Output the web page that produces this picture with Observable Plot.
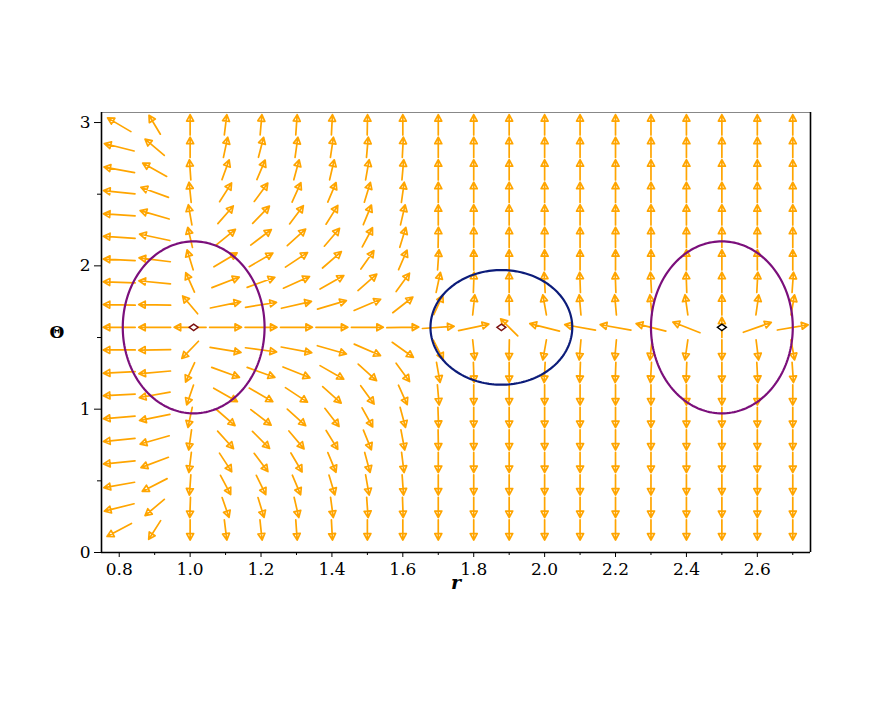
<!DOCTYPE html>
<html><head><meta charset="utf-8">
<script src="https://cdn.jsdelivr.net/npm/d3@7"></script>
<script src="https://cdn.jsdelivr.net/npm/@observablehq/plot@0.6"></script>
<style>body{margin:0;background:#fff}</style>
</head><body><div id="chart"></div>
<script>
// grid columns (r) and rows (theta = k*pi/20, k = 19 .. 1, top to bottom)
const rGrid = [0.8,0.9,1.0,1.1,1.2,1.3,1.4,1.5,1.6,1.7,1.8,1.9,2.0,2.1,2.2,2.3,2.4,2.5,2.6,2.7];
const rowK = [19,18,17,16,15,14,13,12,11,10,9,8,7,6,5,4,3,2,1];
// arrow direction as seen on screen (degrees, 0 = +r, 90 = +theta), one row per k
const arrowAngleDeg = [
  [149.5,121,90,83,85,86,87,89,90,90,90,90,90,90,90,90,90,90,90,90],
  [166,140,90,78,75.5,82,81.5,85,87,90,90,90,90,90,90,90,90,90,90,90],
  [169.5,151,94,70,67,75,77,80,85,90,90,90,90,90,90,90,90,90,90,90],
  [174,160,96,57.5,53.6,65.6,67,73,82,90,90,90,90,90,90,90,90,90,90,90],
  [176,164,100,49,46,53,58,67.5,77,90,90,90,90,90,90,90,90,90,90,90],
  [176,168,103,39,37,42,49.5,62,73,89,90,90,90,90,90,90,90,90,90,90],
  [177,173,107,31,30,33.5,41,55,66.7,86,90,90,90,90,90,90,90,90,90,90],
  [178,174.5,114,21,20,24,29.6,41,54,78,88,90,93,92,92,93,92,90,87,86],
  [179,179,130,11.7,9,12.8,16.4,23,38,65,84,91,100,95,95,96,98,90,82,80],
  [180,180,180,0,0,0,0,0,1,4,12,135,166,170,170,166,158.7,90,19.4,9.8],
  [180,181,226,-9.3,-7.8,-10.7,-15.9,-23.6,-35.5,-63,-84,-91,-100,-95,-95,-96,-98,-90,-83,-80],
  [183,185,245,-19.9,-20,-22,-29.7,-42,-53.8,-80,-88,-90,-93,-92,-92,-93,-92,-90,-87,-86],
  [183,190,251,-29.7,-30,-33.5,-41.7,-54,-65.8,-85,-90,-90,-90,-90,-90,-90,-90,-90,-90,-90],
  [185,191.6,258,-40.8,-37.5,-42,-52,-61,-75,-88,-90,-90,-90,-90,-90,-90,-90,-90,-90,-90],
  [185.6,196,262,-47.8,-45,-49.7,-58.4,-67.9,-79.4,-89,-90,-90,-90,-90,-90,-90,-90,-90,-90,-90],
  [185.6,200.6,263,-56.8,-53,-59.5,-67.4,-75,-83,-90,-90,-90,-90,-90,-90,-90,-90,-90,-90,-90],
  [190,207,266,-62,-64,-67,-73.4,-80,-86,-90,-90,-90,-90,-90,-90,-90,-90,-90,-90,-90],
  [194,220,268,-70.7,-73,-77,-82.4,-86,-88,-90,-90,-90,-90,-90,-90,-90,-90,-90,-90,-90],
  [208,237.5,270,-83,-84,-86,-87,-90,-90,-90,-90,-90,-90,-90,-90,-90,-90,-90,-90,-90]
];
// equilibria and the ellipses drawn round them
const fixedR = [1.01, 1.878, 2.5];
const fixedTheta = [Math.PI/2, Math.PI/2, Math.PI/2];
const fixedColor = ["#7a1010", "#7a1010", "#000000"];
const ellipseR = [1.01, 1.878, 2.5];
const ellipseTheta = [Math.PI/2, Math.PI/2, Math.PI/2];
const ellipseA = [0.2, 0.2, 0.2];
const ellipseB = [0.6, 0.4, 0.6];
const ellipseColor = ["#7b0f7b", "#0c1c7a", "#7b0f7b"];
const xMajor = [0.8,1.0,1.2,1.4,1.6,1.8,2.0,2.2,2.4,2.6];
const xMinor = [0.9,1.1,1.3,1.5,1.7,1.9,2.1,2.3,2.5,2.7];
const yMajor = [0,1,2,3];
const yMinor = [0.5,1.5,2.5];

// layout
const W = 872, H = 708, mL = 101, mR = 62, mT = 112, mB = 156;
const xDom = [0.75, 2.75], yDom = [0, 3.07];
const cellW = (W - mL - mR) / (xDom[1] - xDom[0]) * 0.1;
const cellH = (H - mT - mB) / (yDom[1] - yDom[0]) * (Math.PI / 20);
const L = 0.9;

const arrows = [];
rowK.forEach((k, i) => {
  rGrid.forEach((r, j) => {
    const a = arrowAngleDeg[i][j] * Math.PI / 180;
    const len = L / Math.hypot(Math.cos(a) / cellW, Math.sin(a) / cellH);
    arrows.push({r, theta: k * Math.PI / 20, rot: 90 - arrowAngleDeg[i][j], len});
  });
});

const triArrow = {
  draw(ctx, l) {
    const h = 6.5, w = 3.5;
    ctx.moveTo(0, 0); ctx.lineTo(0, -l + 2);
    ctx.moveTo(0, -l); ctx.lineTo(-w, -l + h); ctx.lineTo(w, -l + h); ctx.closePath();
  }
};
const diamond = {
  draw(ctx) { ctx.moveTo(-4.5, 0); ctx.lineTo(0, -3.3); ctx.lineTo(4.5, 0); ctx.lineTo(0, 3.3); ctx.closePath(); }
};

const ellipseMarks = ellipseR.map((rc, i) => {
  const pts = d3.range(0, 361, 2).map(t => ({
    r: rc + ellipseA[i] * Math.cos(t * Math.PI / 180),
    theta: ellipseTheta[i] + ellipseB[i] * Math.sin(t * Math.PI / 180)
  }));
  return Plot.line(pts, {x: "r", y: "theta", stroke: ellipseColor[i], strokeWidth: 2.2});
});
const dotMarks = fixedR.map((r, i) =>
  Plot.dot([{r, theta: fixedTheta[i]}], {x: "r", y: "theta", symbol: diamond, stroke: fixedColor[i], fill: "white", strokeWidth: 1.4}));

const chart = Plot.plot({
  width: W, height: H, marginLeft: mL, marginRight: mR, marginTop: mT, marginBottom: mB,
  style: {fontFamily: "'DejaVu Serif', serif", fontSize: "17px", color: "black", background: "white"},
  x: {domain: xDom},
  y: {domain: yDom},
  length: {type: "identity"},
  marks: [
    Plot.vector(arrows, {x: "r", y: "theta", rotate: "rot", length: "len", anchor: "middle", shape: triArrow, stroke: "#ffa500", strokeWidth: 1.7}),
    ...ellipseMarks,
    ...dotMarks,
    Plot.ruleY([yDom[1]], {stroke: "#888", strokeWidth: 1}),
    Plot.ruleX([xDom[1]], {stroke: "black", strokeWidth: 1.6}),
    Plot.ruleY([yDom[0]], {stroke: "black", strokeWidth: 1.6}),
    Plot.ruleX([xDom[0]], {stroke: "black", strokeWidth: 1.6}),
    Plot.axisX(xMajor, {tickSize: 5, tickPadding: 5, tickFormat: d3.format(".1f"), label: null}),
    Plot.axisX(xMinor, {tickSize: 3, tickFormat: () => "", label: null}),
    Plot.axisY(yMajor, {tickSize: 7, tickPadding: 4, tickFormat: d3.format("d"), label: null}),
    Plot.axisY(yMinor, {tickSize: 4, tickFormat: () => "", label: null}),
    Plot.text(["r"], {frameAnchor: "bottom", dy: 36, text: d => d, fontSize: 19, fontWeight: "bold", fontStyle: "italic", fill: "black"}),
    Plot.text(["Θ"], {frameAnchor: "left", dx: -52, text: d => d, fontSize: 17, fontWeight: "bold", fill: "black"})
  ]
});
document.getElementById("chart").appendChild(chart);
</script>
</body></html>
